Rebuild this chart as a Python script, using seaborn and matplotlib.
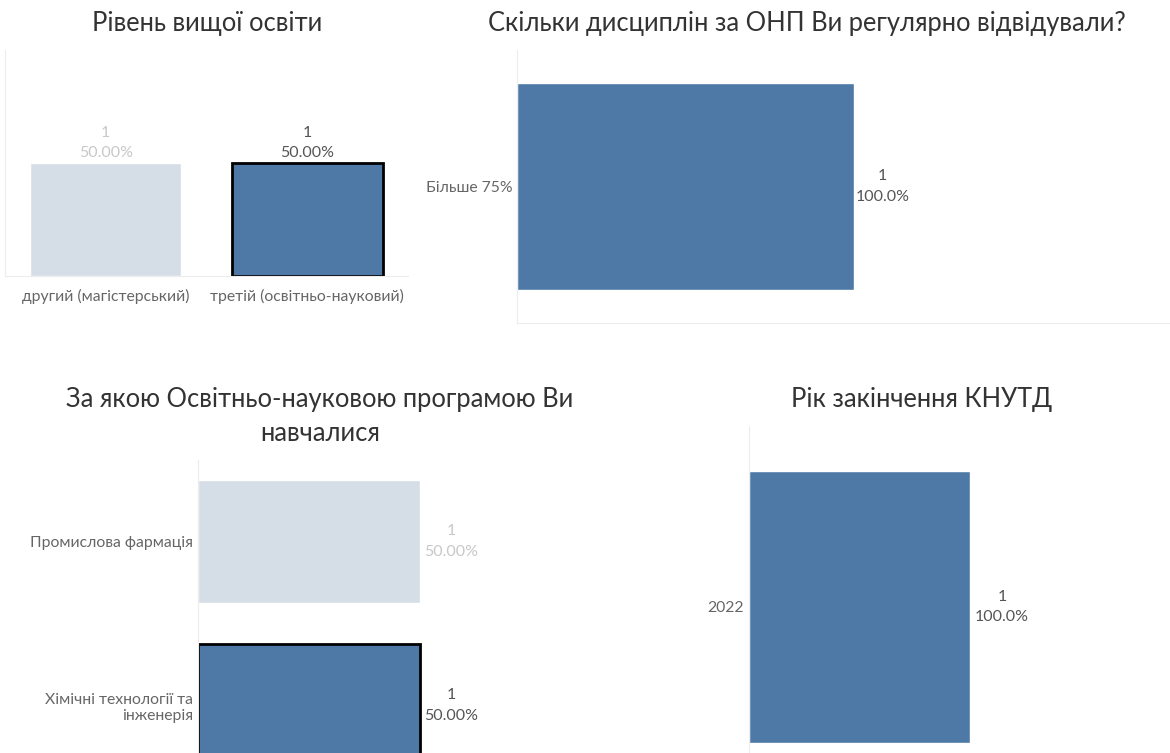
import seaborn as sns
import matplotlib.pyplot as plt

# дані
level_cats = ["другий (магістерський)", "третій (освітньо-науковий)"]
level_counts = [1, 1]
level_pct = ["50.00%", "50.00%"]
level_selected = [False, True]

disc_cats = ["Більше 75%"]
disc_counts = [1]
disc_pct = ["100.0%"]

prog_cats = ["Промислова фармація", "Хімічні технології та\nінженерія"]
prog_counts = [1, 1]
prog_pct = ["50.00%", "50.00%"]
prog_selected = [False, True]

year_cats = ["2022"]
year_counts = [1]
year_pct = ["100.0%"]

DARK = "#4e79a7"
LIGHT = "#d5dee6"
LINE = "#ececec"
W, H = 1170, 753

sns.set_style("white")
plt.rcParams['font.family'] = ['Lato', 'DejaVu Sans']

fig = plt.figure(figsize=(W / 100, H / 100), dpi=100)


def px_axes(x0, y0, x1, y1):
    return fig.add_axes([x0 / W, 1 - y1 / H, (x1 - x0) / W, (y1 - y0) / H])


def clean(ax, keep):
    for side in ["top", "right", "left", "bottom"]:
        ax.spines[side].set_visible(side in keep)
        ax.spines[side].set_color(LINE)
    ax.set_xlabel("")
    ax.set_ylabel("")
    ax.tick_params(length=0, colors="#666666", labelsize=11.3)


def colors_for(selected):
    return [DARK if s else LIGHT for s in selected]


def label(ax, x, y, cnt, pct, sel, **kw):
    ax.text(x, y, f"{cnt}\n{pct}", fontsize=11.5, linespacing=1.55,
            color="#555555" if sel else "#c8c8c8", **kw)


# 1. Рівень вищої освіти
ax1 = px_axes(5, 50, 408, 276)
sns.barplot(x=level_cats, y=level_counts, hue=level_cats, palette=colors_for(level_selected),
            legend=False, width=0.75, saturation=1, ax=ax1)
ax1.set_ylim(0, 2)
clean(ax1, ["left", "bottom"])
ax1.set_yticks([])
ax1.tick_params(axis="x", pad=9)
for p, cnt, pct, sel in zip(ax1.patches, level_counts, level_pct, level_selected):
    if sel:
        p.set_edgecolor("black")
        p.set_linewidth(2)
    label(ax1, p.get_x() + p.get_width() / 2, p.get_height() + 0.03, cnt, pct, sel,
          ha="center", va="bottom")
fig.text(207 / W, 1 - 24 / H, "Рівень вищої освіти", ha="center", va="center",
         fontsize=18.4, color="#333333")

# 2. Скільки дисциплін
ax2 = px_axes(517, 50, 1170, 323)
sns.barplot(x=disc_counts, y=disc_cats, orient="h", color=DARK, width=0.76, saturation=1, ax=ax2)
ax2.set_xlim(0, 1.94)
clean(ax2, ["left", "bottom"])
ax2.set_xticks([])
for p, cnt, pct in zip(ax2.patches, disc_counts, disc_pct):
    label(ax2, p.get_width() + 0.085, p.get_y() + p.get_height() / 2, cnt, pct, True,
          ha="center", va="center")
fig.text(807 / W, 1 - 24 / H, "Скільки дисциплін за ОНП Ви регулярно відвідували?",
         ha="center", va="center", fontsize=18.4, color="#333333")

# 3. Освітньо-наукова програма
ax3 = px_axes(198, 459.5, 642, 787.5)
sns.barplot(x=prog_counts, y=prog_cats, hue=prog_cats, palette=colors_for(prog_selected),
            orient="h", legend=False, width=0.75, saturation=1, ax=ax3)
ax3.set_xlim(0, 2)
clean(ax3, ["left"])
ax3.set_xticks([])
for p, cnt, pct, sel in zip(ax3.patches, prog_counts, prog_pct, prog_selected):
    if sel:
        p.set_edgecolor("black")
        p.set_linewidth(2)
    label(ax3, p.get_width() + 0.14, p.get_y() + p.get_height() / 2, cnt, pct, sel,
          ha="center", va="center")
fig.text(320 / W, 1 - 417 / H, "За якою Освітньо-науковою програмою Ви\nнавчалися",
         ha="center", va="center", fontsize=18.4, color="#333333", linespacing=1.45)

# 4. Рік закінчення
ax4 = px_axes(749, 427, 1170, 787)
sns.barplot(x=year_counts, y=year_cats, orient="h", color=DARK, width=0.755, saturation=1, ax=ax4)
ax4.set_xlim(0, 1.905)
clean(ax4, ["left"])
ax4.set_xticks([])
for p, cnt, pct in zip(ax4.patches, year_counts, year_pct):
    label(ax4, p.get_width() + 0.145, p.get_y() + p.get_height() / 2, cnt, pct, True,
          ha="center", va="center")
fig.text(922 / W, 1 - 400 / H, "Рік закінчення КНУТД", ha="center", va="center",
         fontsize=18.4, color="#333333")

fig.savefig("out.png", dpi=100)
